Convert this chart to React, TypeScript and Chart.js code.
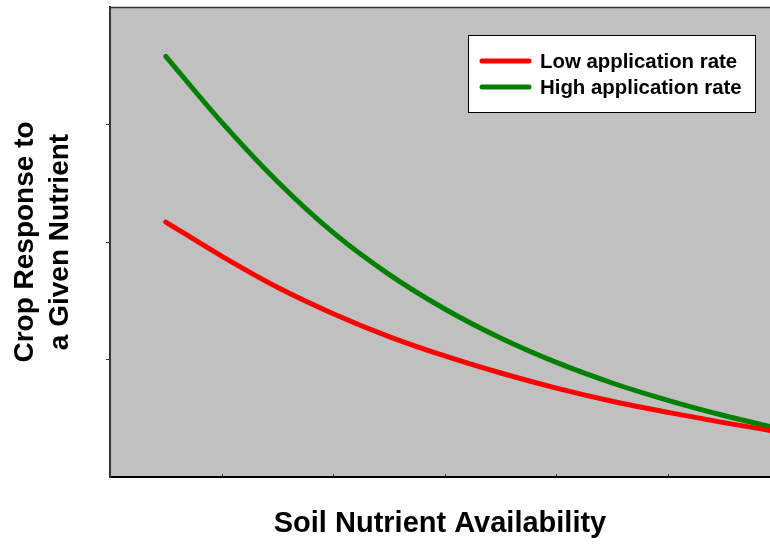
import React, { useEffect, useRef } from 'react';
import { Chart, registerables } from 'chart.js';

Chart.register(...registerables);

// Soil nutrient availability (x) positions where the curves were read
const availability = [0.5, 1, 1.5, 2, 2.5, 3, 3.5, 4, 4.5, 5, 5.5, 6];
// Crop response, low application rate
const lowRate = [2.17, 1.88, 1.615, 1.39, 1.195, 1.03, 0.885, 0.757, 0.645, 0.55, 0.463, 0.383];
// Crop response, high application rate
const highRate = [3.58, 3.02, 2.515, 2.08, 1.725, 1.43, 1.183, 0.975, 0.8, 0.652, 0.523, 0.41];
const seriesLabels = ['Low application rate', 'High application rate'];
const seriesColors = ['#ff0000', '#008000'];
const xTitle = 'Soil Nutrient Availability';
const yTitle = ['Crop Response to', 'a Given Nutrient'];
const xMax = 5.914;
const yMax = 4;

const FONT = '"Liberation Sans", Arial, Helvetica, sans-serif';

const framePlugin = {
  id: 'frame',
  beforeDraw(chart: any) {
    const { ctx, chartArea } = chart;
    const { left, top, right, bottom } = chartArea;
    ctx.save();
    ctx.fillStyle = '#c0c0c0';
    ctx.fillRect(left, top, right - left, bottom - top);
    ctx.restore();
  },
  afterDraw(chart: any) {
    const { ctx, chartArea, scales } = chart;
    const { left, top, right, bottom } = chartArea;
    ctx.save();
    // top frame line
    ctx.strokeStyle = '#333333';
    ctx.lineWidth = 1.5;
    ctx.beginPath();
    ctx.moveTo(left - 1, top + 0.5);
    ctx.lineTo(right, top + 0.5);
    ctx.stroke();
    // inward ticks on x axis
    ctx.strokeStyle = '#333333';
    ctx.lineWidth = 1;
    const xs = scales.x;
    for (const t of xs.ticks) {
      if (t.value <= 0) continue;
      const px = Math.round(xs.getPixelForValue(t.value)) + 0.5;
      ctx.beginPath();
      ctx.moveTo(px, bottom - 1);
      ctx.lineTo(px, bottom - 3);
      ctx.stroke();
    }
    // legend box
    const bx = right - 302;
    const by = top + 28;
    const bw = 288;
    const bh = 78;
    ctx.fillStyle = '#ffffff';
    ctx.fillRect(bx, by, bw, bh);
    ctx.strokeStyle = '#000000';
    ctx.lineWidth = 1;
    ctx.strokeRect(bx + 0.5, by + 0.5, bw - 1, bh - 1);
    const ds = chart.data.datasets;
    ctx.font = `bold 20.4px ${FONT}`;
    ctx.textBaseline = 'middle';
    ctx.textAlign = 'left';
    ds.forEach((d: any, i: number) => {
      const ry = by + 26 + i * 26;
      ctx.strokeStyle = d.borderColor;
      ctx.lineWidth = 5;
      ctx.lineCap = 'round';
      ctx.beginPath();
      ctx.moveTo(bx + 14, ry);
      ctx.lineTo(bx + 61, ry);
      ctx.stroke();
      ctx.fillStyle = '#000000';
      ctx.fillText(d.label, bx + 72, ry + 1);
    });
    ctx.restore();
  },
};

export default function App() {
  const ref = useRef<HTMLCanvasElement | null>(null);
  useEffect(() => {
    if (!ref.current) return;
    const chart = new Chart(ref.current, {
      type: 'line',
      data: {
        labels: availability,
        datasets: [
          {
            label: seriesLabels[0],
            data: availability.map((x, i) => ({ x, y: lowRate[i] })),
            borderColor: seriesColors[0],
            backgroundColor: seriesColors[0],
            borderWidth: 5,
            borderCapStyle: 'round',
            pointRadius: 0,
            cubicInterpolationMode: 'monotone',
            fill: false,
          },
          {
            label: seriesLabels[1],
            data: availability.map((x, i) => ({ x, y: highRate[i] })),
            borderColor: seriesColors[1],
            backgroundColor: seriesColors[1],
            borderWidth: 5,
            borderCapStyle: 'round',
            pointRadius: 0,
            cubicInterpolationMode: 'monotone',
            fill: false,
          },
        ],
      },
      options: {
        animation: false,
        responsive: false,
        devicePixelRatio: 1,
        layout: { padding: { top: 7, left: 0, right: 0, bottom: 0 } },
        plugins: {
          legend: { display: false },
          tooltip: { enabled: false },
        },
        scales: {
          x: {
            type: 'linear',
            min: 0,
            max: xMax,
            ticks: { display: false, stepSize: 1 },
            grid: { display: true, drawOnChartArea: false, drawTicks: false },
            border: { display: true, color: '#000000', width: 2 },
            title: {
              display: true,
              text: xTitle,
              color: '#000000',
              font: { family: FONT, size: 29, weight: 'bold', lineHeight: 1.2 },
              padding: { top: 29.4, bottom: 4.8 },
            },
          },
          y: {
            type: 'linear',
            min: 0,
            max: yMax,
            ticks: { display: false, stepSize: 1 },
            grid: {
              display: true,
              drawOnChartArea: false,
              drawTicks: true,
              tickLength: 4,
              color: (c: any) =>
                c.tick && (c.tick.value === 0 || c.tick.value === yMax) ? 'rgba(0,0,0,0)' : '#333333',
            },
            border: { display: true, color: '#333333', width: 2 },
            title: {
              display: true,
              text: yTitle,
              color: '#000000',
              font: { family: FONT, size: 28, weight: 'bold', lineHeight: 1.25 },
              padding: { top: 7.5, bottom: 28.5 },
            },
          },
        },
      },
      plugins: [framePlugin],
    });
    return () => chart.destroy();
  }, []);
  return (
    <div style={{ position: 'absolute', left: 0, top: 0, width: 770, height: 546, background: '#ffffff' }}>
      <canvas ref={ref} width={770} height={546} style={{ display: 'block' }} />
    </div>
  );
}
